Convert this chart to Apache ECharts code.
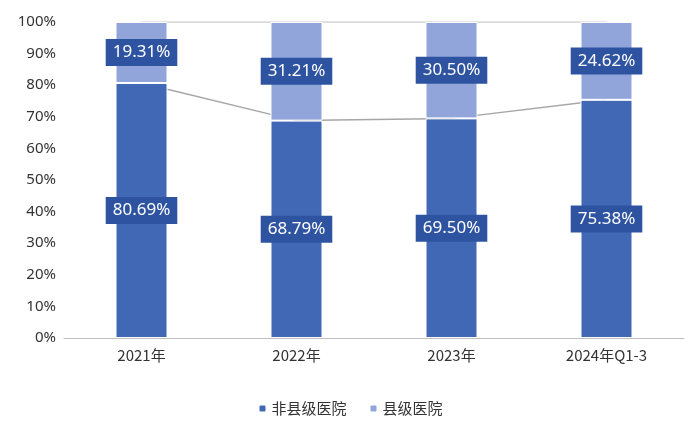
<!DOCTYPE html>
<html><head><meta charset="utf-8">
<script src="https://cdn.jsdelivr.net/npm/echarts@6/dist/echarts.min.js"></script>
<style>html,body{margin:0;background:#fff}#c{width:700px;height:435px}</style>
</head><body><div id="c"></div>
<script>
var categories = ['2021年', '2022年', '2023年', '2024年Q1-3'];
var nonCounty = [80.69, 68.79, 69.50, 75.38];
var county = [19.31, 31.21, 30.50, 24.62];
var totals = nonCounty.map(function (v, i) { return v + county[i]; });

var chart = echarts.init(document.getElementById('c'));
var boxLabel = {
  show: true, position: 'inside', color: '#fff', fontSize: 17,
  fontFamily: 'Noto Sans', backgroundColor: '#2e54a1', padding: [5, 7],
  formatter: function (p) { return p.value.toFixed(2) + '%'; }
};
chart.setOption({
  animation: false,
  grid: { left: 64, right: 16, top: 22, bottom: 97 },
  legend: {
    bottom: 14, itemWidth: 8, itemHeight: 8, itemGap: 22,
    textStyle: { fontSize: 15, color: '#333', fontFamily: 'Noto Sans CJK SC' },
    data: ['非县级医院', '县级医院']
  },
  xAxis: {
    type: 'category', data: categories,
    axisLine: { lineStyle: { color: '#bfbfbf' } }, axisTick: { show: false },
    axisLabel: { fontSize: 15, color: '#333', margin: 10, fontFamily: 'Noto Sans CJK SC' }
  },
  yAxis: {
    type: 'value', min: 0, max: 100, interval: 10,
    splitLine: { show: false },
    axisLabel: { formatter: '{value}%', fontSize: 15, color: '#333', fontFamily: 'Noto Sans' }
  },
  series: [
    { name: '非县级医院', type: 'bar', stack: 's', barWidth: 52, z: 3, data: nonCounty,
      itemStyle: { color: '#4168b5', borderColor: '#fff', borderWidth: 1 }, label: boxLabel },
    { name: '县级医院', type: 'bar', stack: 's', z: 3, data: county,
      itemStyle: { color: '#91a5da', borderColor: '#fff', borderWidth: 1 }, label: boxLabel },
    { type: 'line', data: nonCounty, z: 1, symbol: 'none', silent: true,
      lineStyle: { color: '#a6a6a6', width: 1.5 } },
    { type: 'line', data: totals, z: 1, symbol: 'none', silent: true,
      lineStyle: { color: '#d0d0d0', width: 1.5 } }
  ]
});
</script></body></html>
